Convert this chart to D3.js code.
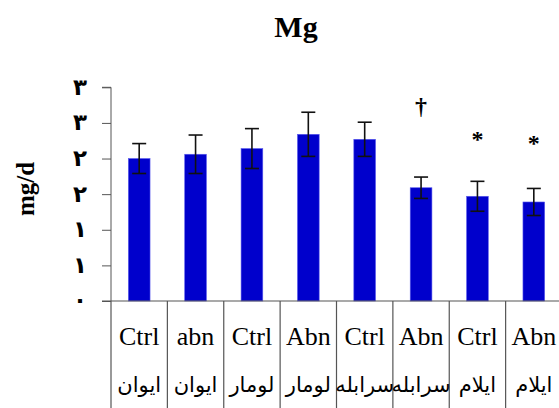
<!DOCTYPE html>
<html lang="en">
<head>
<meta charset="utf-8">
<title>Mg</title>
<script src="https://d3js.org/d3.v7.min.js"></script>
<style>
body { margin: 0; background: #fff; }
svg text { fill: #000; }
</style>
</head>
<body>
<script>
// data
const groups = ["Ctrl", "abn", "Ctrl", "Abn", "Ctrl", "Abn", "Ctrl", "Abn"];
const places = ["ایوان", "ایوان", "لومار", "لومار", "سرابله", "سرابله", "ایلام", "ایلام"];
const means = [2.00, 2.06, 2.14, 2.34, 2.27, 1.59, 1.47, 1.39];
const errs = [0.21, 0.27, 0.28, 0.31, 0.24, 0.15, 0.21, 0.19];
const sigMarks = ["", "", "", "", "", "†", "*", "*"];
const sigAt = [null, null, null, null, null, 2.74, 2.33, 2.27];
const yTicks = [0, 0.5, 1, 1.5, 2, 2.5, 3];
const yTickLabels = ["۰", "۱", "۱", "۲", "۲", "۳", "۳"];

const w = 559, h = 408;
const plotL = 111, plotR = 562, plotT = 87.3, base = 301;

const svg = d3.select("body").append("svg")
  .attr("width", w)
  .attr("height", h);

const ids = d3.range(groups.length);

const x = d3.scaleBand()
  .domain(ids)
  .range([plotL, plotR])
  .paddingInner(0.615)
  .paddingOuter(0.3075);

const y = d3.scaleLinear()
  .domain([0, 3])
  .range([base, plotT]);

const step = x.step();
const edge = i => x(i) - step * x.paddingInner() / 2;

// title
svg.append("text")
  .attr("x", 296).attr("y", 37)
  .attr("text-anchor", "middle")
  .style("font-family", "'Liberation Serif', 'Times New Roman', serif")
  .style("font-weight", "bold")
  .style("font-size", "30px")
  .text("Mg");

// y label
svg.append("text")
  .attr("transform", "translate(34,189) rotate(-90)")
  .attr("text-anchor", "middle")
  .style("font-family", "'Liberation Serif', 'Times New Roman', serif")
  .style("font-weight", "bold")
  .style("font-size", "25px")
  .text("mg/d");

// y axis
const yAxis = d3.axisLeft(y)
  .tickValues(yTicks)
  .tickSize(9)
  .tickPadding(16)
  .tickFormat((d, i) => yTickLabels[i]);

const ga = svg.append("g")
  .attr("transform", `translate(${plotL},0)`)
  .call(yAxis);
ga.select(".domain").attr("stroke", "#555").attr("d", `M-9,${plotT}H0V${base}`);
ga.selectAll(".tick line").attr("stroke", "#555");
ga.selectAll(".tick text")
  .style("font-family", "'DejaVu Sans', sans-serif")
  .style("font-weight", "bold")
  .style("font-size", "23px")
  .attr("text-anchor", "middle")
  .attr("x", -31)
  .attr("dy", "0.3em");

// bars
svg.selectAll("rect.bar")
  .data(ids)
  .enter().append("rect")
  .attr("class", "bar")
  .attr("x", i => x(i))
  .attr("width", x.bandwidth())
  .attr("y", i => y(means[i]))
  .attr("height", i => base - y(means[i]))
  .attr("fill", "#0000cc")
  .attr("stroke", "#5a5aee")
  .attr("stroke-width", 0.6);

// error bars
const eb = svg.selectAll("g.err")
  .data(ids)
  .enter().append("g")
  .attr("class", "err")
  .attr("stroke", "#111")
  .attr("stroke-width", 1.6);
const cx = i => x(i) + x.bandwidth() / 2;
eb.append("line")
  .attr("x1", cx).attr("x2", cx)
  .attr("y1", i => y(means[i] + errs[i]))
  .attr("y2", i => y(means[i] - errs[i]));
[1, -1].forEach(s => {
  eb.append("line")
    .attr("x1", i => cx(i) - 7).attr("x2", i => cx(i) + 7)
    .attr("y1", i => y(means[i] + s * errs[i]))
    .attr("y2", i => y(means[i] + s * errs[i]));
});

// significance marks
svg.selectAll("text.sig")
  .data(ids.filter(i => sigMarks[i]))
  .enter().append("text")
  .attr("class", "sig")
  .attr("x", cx)
  .attr("y", i => y(sigAt[i]))
  .attr("dy", i => sigMarks[i] === "*" ? "0.5em" : "0.35em")
  .attr("text-anchor", "middle")
  .style("font-family", "'Liberation Serif', 'Times New Roman', serif")
  .style("font-weight", "bold")
  .style("font-size", "24px")
  .text(i => sigMarks[i]);

// category table
svg.append("line")
  .attr("x1", 102).attr("x2", w)
  .attr("y1", base).attr("y2", base)
  .attr("stroke", "#555").attr("stroke-width", 1.2);

svg.selectAll("line.cell")
  .data(ids)
  .enter().append("line")
  .attr("class", "cell")
  .attr("x1", edge).attr("x2", edge)
  .attr("y1", base).attr("y2", h)
  .attr("stroke", "#555").attr("stroke-width", 1.2);

svg.selectAll("text.grp")
  .data(ids)
  .enter().append("text")
  .attr("class", "grp")
  .attr("x", cx)
  .attr("y", 345)
  .attr("text-anchor", "middle")
  .style("font-family", "'Liberation Serif', 'Times New Roman', serif")
  .style("font-size", "26px")
  .text(i => groups[i]);

svg.selectAll("text.place")
  .data(ids)
  .enter().append("text")
  .attr("class", "place")
  .attr("x", cx)
  .attr("y", 392)
  .attr("text-anchor", "middle")
  .style("font-family", "'DejaVu Sans', sans-serif")
  .style("font-size", "21px")
  .text(i => places[i]);
</script>
</body>
</html>
